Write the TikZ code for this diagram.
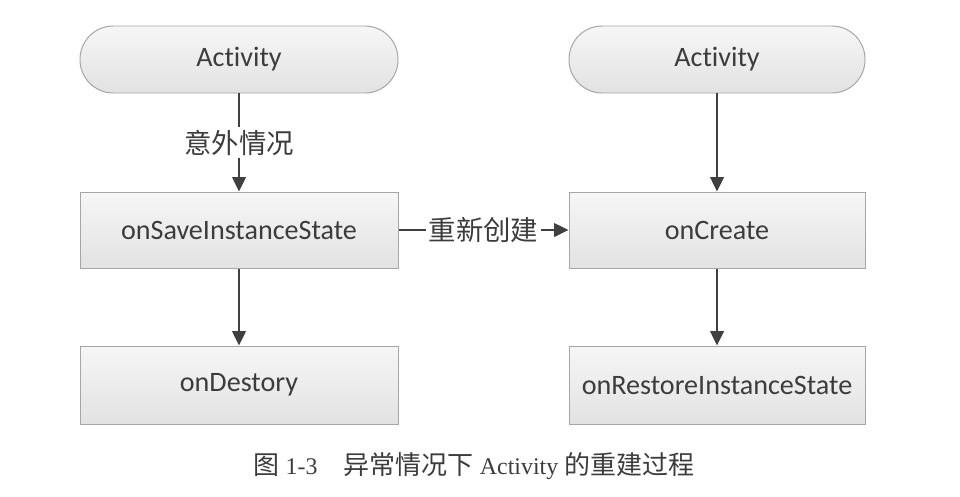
\documentclass[tikz,border=0pt]{standalone}
\usepackage{fontspec}
\setmainfont{Carlito}[Ligatures=NoCommon]
\newfontfamily\cjk{Noto Sans CJK SC}
\newfontfamily\capfont{Liberation Serif}
\usetikzlibrary{arrows.meta}
\definecolor{boxTop}{HTML}{F6F6F6}
\definecolor{boxBot}{HTML}{E2E2E2}
\definecolor{boxD}{HTML}{A6A6A6}
\definecolor{arrC}{HTML}{404040}
\definecolor{txtC}{HTML}{3C3C3C}
\tikzset{
  box/.style={draw=boxD, line width=0.7pt, top color=boxTop, bottom color=boxBot,
              text=txtC, font=\fontsize{20}{24}\selectfont, inner sep=0pt},
  startbox/.style={box, rounded corners=0.83cm, minimum height=1.675cm},
  stepbox/.style={box, minimum height=1.9cm},
  arr/.style={-{Triangle[length=3.6mm,width=3.4mm]}, draw=arrC, line width=1.3pt},
  lab/.style={font=\cjk\fontsize{19.5}{22}\selectfont, text=txtC, fill=white, inner sep=2pt},
}
\newcommand\cjkcap[1]{{\cjk\fontsize{18.5}{20}\selectfont #1}}
\begin{document}
\begin{tikzpicture}
\useasboundingbox[fill=white] (0,0) rectangle (24,-12.4);
% left column
\node[startbox, minimum width=7.95cm] (act1) at (5.975,-1.4875) {Activity};
\node[stepbox, minimum width=7.95cm] (save) at (5.975,-5.75) {onSaveInstanceState};
\node[stepbox, minimum width=7.95cm, minimum height=1.95cm] (destroy) at (5.975,-9.625) {onDestory};
% right column
\node[startbox, minimum width=7.4cm] (act2) at (17.925,-1.4875) {Activity};
\node[stepbox, minimum width=7.4cm] (create) at (17.925,-5.75) {onCreate};
\node[stepbox, minimum width=7.4cm, minimum height=1.95cm] (restore) at (17.925,-9.625) {onRestoreInstanceState};
% connectors
\draw[arr] (act1) -- node[lab] {意外情况} (save);
\draw[arr] (save) -- (destroy);
\draw[arr] (save) -- node[lab] {重新创建} (create);
\draw[arr] (act2) -- (create);
\draw[arr] (create) -- (restore);
% caption
\node[font=\capfont\fontsize{17}{20}\selectfont, text=txtC] (cap) at (11.85,-11.65)
  {\cjkcap{图}\ 1-3\hspace{1.1em}\cjkcap{异常情况下} Activity \cjkcap{的重建过程}};
\end{tikzpicture}
\end{document}
